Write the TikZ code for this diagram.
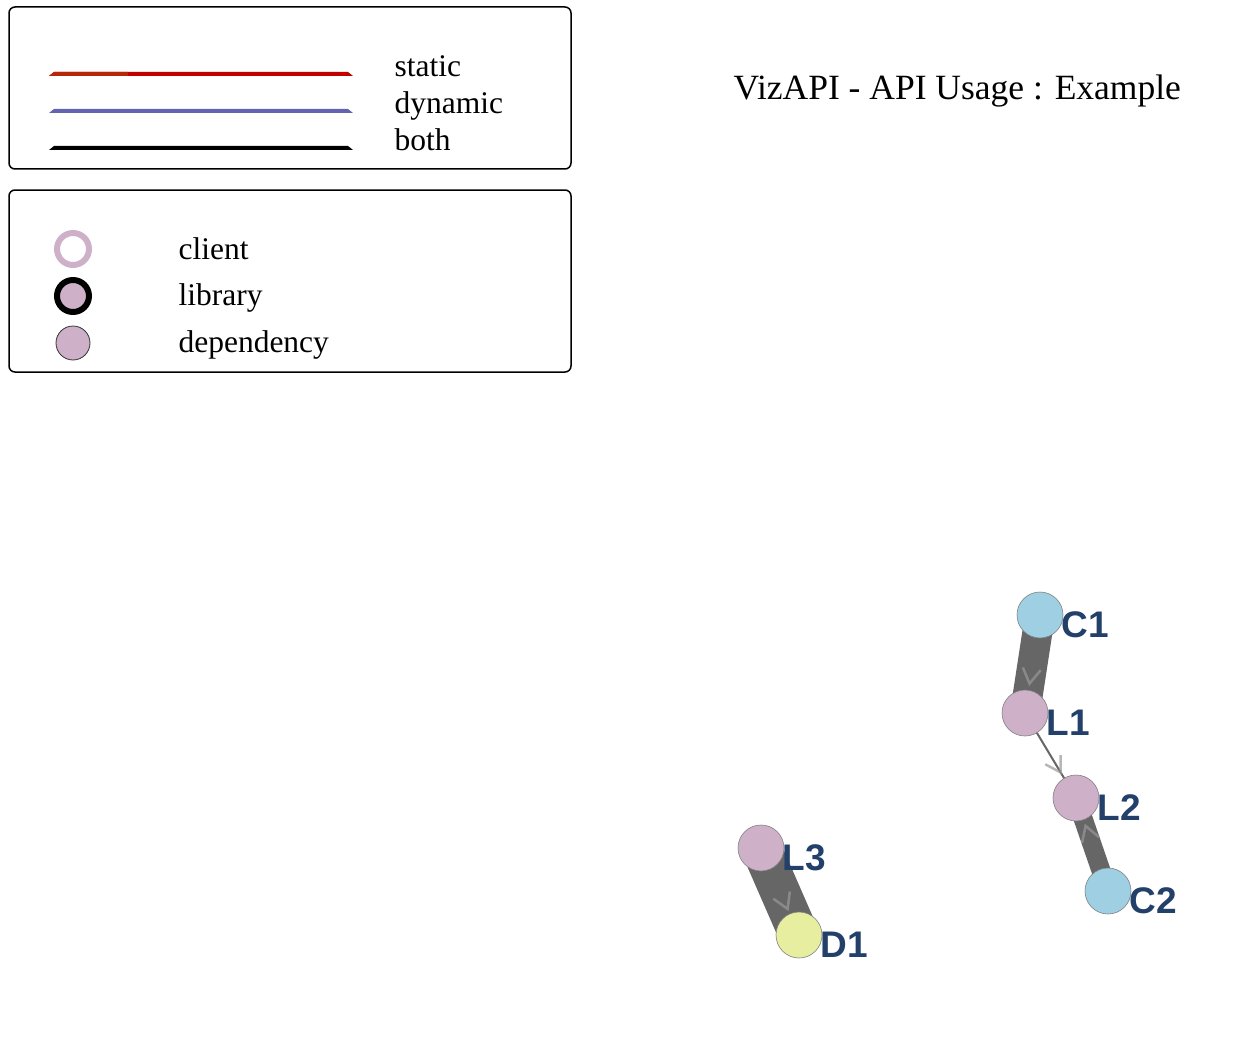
\documentclass[tikz,border=0pt]{standalone}
\usepackage{fontspec}
\setmainfont{Liberation Serif}
\newfontfamily\labelfont{Liberation Sans}
\usetikzlibrary{decorations.markings,backgrounds}
\definecolor{clientblue}{RGB}{158,207,227}
\definecolor{libpink}{RGB}{206,176,200}
\definecolor{depyellow}{RGB}{232,238,160}
\definecolor{edgegray}{RGB}{102,102,102}
\definecolor{labelnavy}{RGB}{34,64,106}
\definecolor{staticred}{RGB}{192,0,0}
\definecolor{staticdark}{RGB}{180,40,10}
\definecolor{dynblue}{RGB}{99,99,176}

\begin{document}
\begin{tikzpicture}[x=1pt, y=-1pt,
        every node/.style={font=\fontsize{31.5}{36}\selectfont},
        legendbox/.style={draw, line width=1.5pt, rounded corners=6pt},
        legendmark/.style={circle, minimum size=32pt, inner sep=0pt},
        vert/.style={circle, draw=gray, line width=0.6pt, minimum size=46pt, inner sep=0pt},
        vlabel/.style={anchor=base west, text=labelnavy, font=\labelfont\bfseries\fontsize{37}{40}\selectfont},
        link/.style={edgegray, postaction={decorate, decoration={markings,
            mark=at position 0.7 with {\draw[gray!80, opacity=0.7, line width=2.5pt] (-15,-9) -- (0,0) -- (-15,9);}}}}]
        \useasboundingbox (0,0) rectangle (1240,1046);
        \draw[legendbox] (9,7) rectangle (571,169);
        \draw[legendbox] (9,190) rectangle (571,372);
        \fill[staticred] (49,76) -- (54,72) -- (348,72) -- (353,76) -- cycle;
        \fill[staticdark] (49,76) -- (54,72) -- (128,72) -- (128,76) -- cycle;
        \fill[dynblue] (49,113) -- (54,109) -- (348,109) -- (353,113) -- cycle;
        \fill[black] (49,150) -- (54,146) -- (348,146) -- (353,150) -- cycle;
        \node[anchor=base west] (static) at (391,77) {static};
        \node[anchor=base west] (dynamic) at (391,114) {dynamic};
        \node[anchor=base west] (both) at (391,151) {both};
        \node[legendmark, draw=libpink, line width=6pt, fill=white] (clientmark) at (73,249) {};
        \node[legendmark, draw=black, line width=6pt, fill=libpink] (librarymark) at (73,296) {};
        \node[legendmark, draw=black!80, line width=0.8pt, fill=libpink, minimum size=34pt] (depmark) at (73,343) {};
        \node[anchor=base west] (client) at (175,259) {client};
        \node[anchor=base west] (library) at (175,305) {library};
        \node[anchor=base west] (dependency) at (175,352) {dependency};
        \node[anchor=base west, font=\fontsize{35.5}{40}\selectfont] (title) at (730,100) {VizAPI - API Usage : Example};
        \node[vert, fill=clientblue] (C1) at (1040,615) {};
        \node[vert, fill=libpink] (L1) at (1025,713) {};
        \node[vert, fill=libpink] (L2) at (1076,798) {};
        \node[vert, fill=clientblue] (C2) at (1108,891) {};
        \node[vert, fill=libpink] (L3) at (761,848) {};
        \node[vert, fill=depyellow] (D1) at (799,935) {};
        \foreach \v in {C1,L1,L2,C2,L3,D1}
            \node[vlabel] (\v-lbl) at ([shift={(18,22)}]\v.center) {\v};
        \begin{scope}[on background layer]
            \draw[link, line width=30pt] (C1.center) -- (L1.center);
            \draw[link, line width=2pt] (L1.center) -- (L2.center);
            \draw[link, line width=19pt] (C2.center) -- (L2.center);
            \draw[link, line width=40pt] (L3.center) -- (D1.center);
        \end{scope}
    \end{tikzpicture}
\end{document}
